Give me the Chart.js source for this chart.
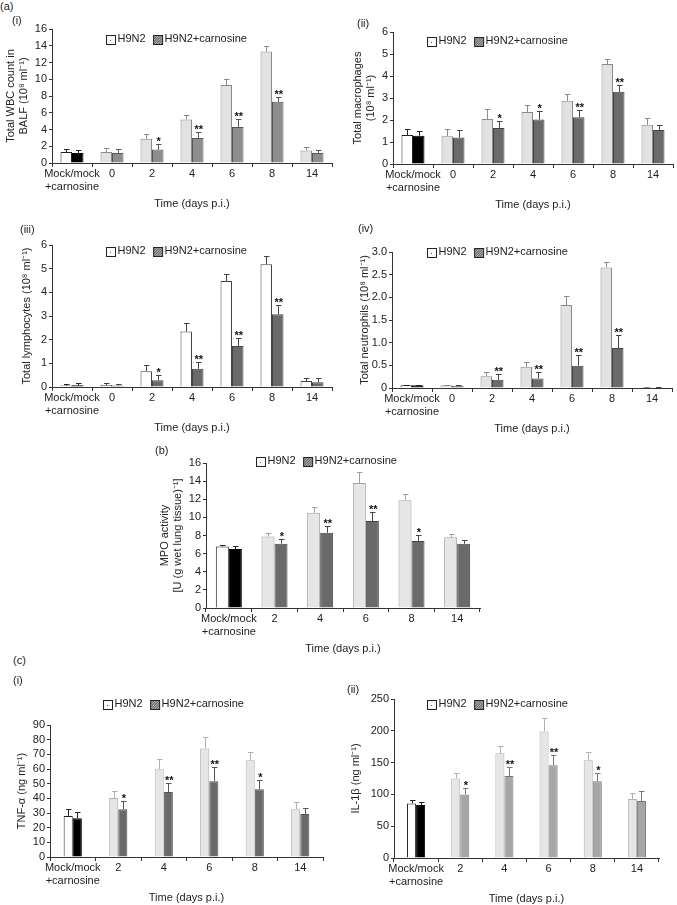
<!DOCTYPE html>
<html>
<head>
<meta charset="utf-8">
<script src="https://cdn.jsdelivr.net/npm/chart.js@4.4.0/dist/chart.umd.min.js"></script>
<style>
  body { margin: 0; width: 677px; height: 905px; overflow: hidden; background: #fff; position: relative;
         font-family: "Liberation Sans", Arial, sans-serif; color: #222; }
  canvas { position: absolute; }
  .tag { position: absolute; font-size: 11px; line-height: 13px; z-index: 2; }
</style>
</head>
<body>
<div class="tag" style="left:0;top:0">(a)</div>
<div class="tag" style="left:12px;top:14px">(i)</div>
<div class="tag" style="left:357px;top:17px">(ii)</div>
<div class="tag" style="left:20px;top:223px">(iii)</div>
<div class="tag" style="left:358px;top:222px">(iv)</div>
<div class="tag" style="left:155px;top:444px">(b)</div>
<div class="tag" style="left:13px;top:654px">(c)</div>
<div class="tag" style="left:13px;top:674px">(i)</div>
<div class="tag" style="left:347px;top:683px">(ii)</div>

<canvas id="wbc"></canvas>
<canvas id="mac"></canvas>
<canvas id="lym"></canvas>
<canvas id="neu"></canvas>
<canvas id="mpo"></canvas>
<canvas id="tnf"></canvas>
<canvas id="il1"></canvas>

<script>
const daysA = [['Mock/mock', '+carnosine'], '0', '2', '4', '6', '8', '14'];
const daysBC = [['Mock/mock', '+carnosine'], '2', '4', '6', '8', '14'];

// (a)(i) total WBC in BALF
const wbcH9N2 = [1.3, 1.3, 2.9, 5.2, 9.3, 13.3, 1.5];
const wbcH9N2Err = [0.4, 0.5, 0.6, 0.5, 0.7, 0.7, 0.45];
const wbcCarn = [1.2, 1.2, 1.6, 3.0, 4.3, 7.3, 1.2];
const wbcCarnErr = [0.4, 0.5, 0.7, 0.7, 1.0, 0.6, 0.35];
const wbcStars = ['', '', '*', '**', '**', '**', ''];

// (a)(ii) macrophages
const macH9N2 = [1.32, 1.26, 2.05, 2.36, 2.87, 4.54, 1.78];
const macH9N2Err = [0.26, 0.34, 0.45, 0.33, 0.32, 0.23, 0.3];
const macCarn = [1.28, 1.2, 1.64, 2.02, 2.13, 3.28, 1.55];
const macCarnErr = [0.22, 0.35, 0.31, 0.4, 0.33, 0.31, 0.21];
const macStars = ['', '', '*', '*', '**', '**', ''];

// (a)(iii) lymphocytes
const lymH9N2 = [0.06, 0.08, 0.67, 2.34, 4.48, 5.19, 0.25];
const lymH9N2Err = [0.08, 0.07, 0.26, 0.38, 0.28, 0.36, 0.14];
const lymCarn = [0.07, 0.06, 0.29, 0.77, 1.73, 3.07, 0.2];
const lymCarnErr = [0.08, 0.07, 0.23, 0.28, 0.32, 0.38, 0.18];
const lymStars = ['', '', '*', '**', '**', '**', ''];

// (a)(iv) neutrophils
const neuH9N2 = [0.06, 0.06, 0.26, 0.47, 1.83, 2.66, 0.02];
const neuH9N2Err = [0.01, 0.01, 0.09, 0.11, 0.21, 0.12, 0.01];
const neuCarn = [0.06, 0.05, 0.18, 0.21, 0.49, 0.88, 0.01];
const neuCarnErr = [0.01, 0.01, 0.12, 0.15, 0.23, 0.29, 0.01];
const neuStars = ['', '', '**', '**', '**', '**', ''];

// (b) MPO activity
const mpoH9N2 = [6.8, 7.9, 10.5, 13.8, 11.9, 7.8];
const mpoH9N2Err = [0.2, 0.35, 0.6, 1.2, 0.65, 0.35];
const mpoCarn = [6.5, 7.1, 8.3, 9.6, 7.4, 7.1];
const mpoCarnErr = [0.3, 0.5, 0.75, 1.0, 0.65, 0.4];
const mpoStars = ['', '*', '**', '**', '*', ''];

// (c)(i) TNF-alpha
const tnfH9N2 = [28, 40.3, 59.9, 74, 66, 32.6];
const tnfH9N2Err = [4.6, 5, 6.8, 7.5, 5.5, 5];
const tnfCarn = [26.5, 32.6, 44.4, 51.7, 46.2, 29.4];
const tnfCarnErr = [4, 5.7, 5.9, 9.8, 6.2, 4.3];
const tnfStars = ['', '*', '**', '**', '*', ''];

// (c)(ii) IL-1beta
const il1H9N2 = [85.8, 125, 164.7, 199, 153.7, 92.6];
const il1H9N2Err = [5.2, 8, 11.3, 21, 12.6, 9];
const il1Carn = [83.2, 100, 129, 145.8, 120.5, 89.5];
const il1CarnErr = [5.2, 9.5, 13.6, 16.8, 13.2, 15.2];
const il1Stars = ['', '*', '**', '**', '*', ''];

const FONT = { family: '"Liberation Sans", Arial, sans-serif', size: 11, lineHeight: 1.2 };
const INK = '#222';

// error bars, asterisks and the little legend
const extras = {
  id: 'extras',
  afterDatasetsDraw(chart, args, opts) {
    const ctx = chart.ctx, y = chart.scales.y;
    ctx.save();
    chart.data.datasets.forEach((ds, i) => {
      chart.getDatasetMeta(i).data.forEach((bar, j) => {
        const top = Math.round(y.getPixelForValue(ds.data[j] + ds.err[j])) + 0.5;
        const x = Math.round(bar.x) + 0.5;
        ctx.strokeStyle = j === 0 ? '#222' : ds.errColor;
        ctx.lineWidth = 1;
        ctx.beginPath();
        ctx.moveTo(x, bar.y);
        ctx.lineTo(x, top);
        ctx.moveTo(x - 2.5, top);
        ctx.lineTo(x + 3, top);
        ctx.stroke();
        if (ds.stars && ds.stars[j]) {
          ctx.fillStyle = '#111';
          ctx.font = 'bold 11px "Liberation Sans", Arial, sans-serif';
          ctx.textAlign = 'center';
          ctx.textBaseline = 'alphabetic';
          ctx.fillText(ds.stars[j], bar.x + 1, top + 0.5);
        }
      });
    });

    // legend
    let lx = Math.round(opts.x) + 0.5, ly = Math.round(opts.y - 4.5) + 0.5;
    ctx.font = '11px "Liberation Sans", Arial, sans-serif';
    ctx.textBaseline = 'middle';
    ctx.textAlign = 'left';
    chart.data.datasets.forEach((ds, i) => {
      ctx.fillStyle = i === 0 ? '#fafafa' : '#6a6a6a';
      ctx.fillRect(lx, ly, 9, 9);
      if (i === 0) {
        ctx.fillStyle = '#555';
        ctx.fillRect(lx + 3.5, ly + 4.5, 1, 1);
      } else {
        ctx.save();
        ctx.beginPath();
        ctx.rect(lx, ly, 9, 9);
        ctx.clip();
        ctx.strokeStyle = '#bbb';
        ctx.beginPath();
        for (let k = -9; k < 9; k += 2.5) { ctx.moveTo(lx + k, ly + 9); ctx.lineTo(lx + k + 9, ly); }
        ctx.stroke();
        ctx.restore();
      }
      ctx.strokeStyle = '#222';
      ctx.strokeRect(lx, ly, 9, 9);
      ctx.fillStyle = INK;
      ctx.fillText(ds.label, lx + 11, opts.y);
      lx += 11 + ctx.measureText(ds.label).width + 8;
    });
    ctx.restore();
  }
};

function panel(id, c) {
  const cv = document.getElementById(id);
  cv.width = c.w; cv.height = c.h;
  cv.style.left = c.x + 'px'; cv.style.top = c.y + 'px';
  cv.style.width = c.w + 'px'; cv.style.height = c.h + 'px';
  const padLeft = Math.max(0, c.titleX - 10.6 - c.x);
  return new Chart(cv, {
    type: 'bar',
    data: {
      labels: c.labels,
      datasets: [
        {
          label: 'H9N2', data: c.h9, err: c.h9Err,
          backgroundColor: c.labels.map((_, i) => i === 0 ? '#fff' : c.h9Fill),
          borderColor: c.labels.map((_, i) => i === 0 ? '#222' : c.h9Line),
          borderWidth: 1, errColor: c.h9Line
        },
        {
          label: 'H9N2+carnosine', data: c.cn, err: c.cnErr, stars: c.stars,
          backgroundColor: c.labels.map((_, i) => i === 0 ? '#000' : c.cnFill),
          borderColor: c.labels.map((_, i) => i === 0 ? '#000' : c.cnLine),
          borderWidth: 1, errColor: c.cnLine
        }
      ]
    },
    options: {
      responsive: false, animation: false, devicePixelRatio: 1,
      layout: { padding: { left: padLeft, top: c.area.t - c.y, right: c.x + c.w - c.area.r, bottom: 0 } },
      datasets: { bar: { categoryPercentage: c.cat, barPercentage: 1 } },
      plugins: {
        legend: { display: false },
        tooltip: { enabled: false },
        extras: { x: c.legend[0] - c.x, y: c.legend[1] - c.y }
      },
      scales: {
        x: {
          grid: { drawOnChartArea: false, tickLength: 4, color: '#333' },
          border: { color: '#333' },
          ticks: { padding: 0, color: INK, font: FONT, maxRotation: 0, autoSkip: false },
          title: { display: true, text: 'Time (days p.i.)', color: INK, font: FONT },
          afterFit: s => { s.height = c.y + c.h - c.area.b; }
        },
        y: {
          min: 0, max: c.max,
          ticks: { stepSize: c.step, padding: 2, color: INK, font: FONT, autoSkip: false, maxTicksLimit: 20,
                   callback: c.fmt || (v => v) },
          grid: { drawOnChartArea: false, tickLength: 3, color: '#333' },
          border: { color: '#333' },
          title: { display: true, text: c.yTitle, color: INK, font: FONT, padding: { top: 4, bottom: 0 } },
          afterFit: s => { s.width = c.area.l - c.x - padLeft; }
        }
      }
    },
    plugins: [extras]
  });
}

const light = '#e2e2e2', lightLine = '#8a8a8a', dark = '#6a6a6a', darkLine = '#444';

panel('wbc', {
  x: 0, y: 20, w: 338, h: 195, area: { l: 52, t: 29, r: 332, b: 163 }, titleX: 10,
  labels: daysA, h9: wbcH9N2, h9Err: wbcH9N2Err, cn: wbcCarn, cnErr: wbcCarnErr, stars: wbcStars,
  h9Fill: light, h9Line: lightLine, cnFill: '#8e8e8e', cnLine: '#555',
  max: 16, step: 2, cat: 0.575, legend: [106, 39],
  yTitle: ['Total WBC count in', 'BALF (10⁸ ml⁻¹)']
});

panel('mac', {
  x: 340, y: 20, w: 337, h: 196, area: { l: 393, t: 32, r: 673, b: 164 }, titleX: 358,
  labels: daysA, h9: macH9N2, h9Err: macH9N2Err, cn: macCarn, cnErr: macCarnErr, stars: macStars,
  h9Fill: light, h9Line: lightLine, cnFill: dark, cnLine: darkLine,
  max: 6, step: 1, cat: 0.575, legend: [427, 41],
  yTitle: ['Total macrophages', '(10⁸ ml⁻¹)']
});

panel('lym', {
  x: 0, y: 235, w: 338, h: 204, area: { l: 52, t: 245, r: 332, b: 387 }, titleX: 27,
  labels: daysA, h9: lymH9N2, h9Err: lymH9N2Err, cn: lymCarn, cnErr: lymCarnErr, stars: lymStars,
  h9Fill: '#fff', h9Line: '#444', cnFill: dark, cnLine: darkLine,
  max: 6, step: 1, cat: 0.575, legend: [106, 251],
  yTitle: 'Total lymphocytes (10⁸ ml⁻¹)'
});

panel('neu', {
  x: 340, y: 240, w: 337, h: 200, area: { l: 392, t: 252, r: 672, b: 388 }, titleX: 365,
  labels: daysA, h9: neuH9N2, h9Err: neuH9N2Err, cn: neuCarn, cnErr: neuCarnErr, stars: neuStars,
  h9Fill: light, h9Line: lightLine, cnFill: dark, cnLine: darkLine,
  max: 3, step: 0.5, cat: 0.575, legend: [427, 252],
  fmt: v => v === 0 ? '0' : v.toFixed(1),
  yTitle: 'Total neutrophils (10⁸ ml⁻¹)'
});

panel('mpo', {
  x: 150, y: 450, w: 340, h: 210, area: { l: 206, t: 463, r: 480, b: 608 }, titleX: 165,
  labels: daysBC, h9: mpoH9N2, h9Err: mpoH9N2Err, cn: mpoCarn, cnErr: mpoCarnErr, stars: mpoStars,
  h9Fill: '#e6e6e6', h9Line: '#a0a0a0', cnFill: dark, cnLine: darkLine,
  max: 16, step: 2, cat: 0.57, legend: [256, 461],
  yTitle: ['MPO activity', '[U (g wet lung tissue)⁻¹]']
});

panel('tnf', {
  x: 0, y: 695, w: 338, h: 214, area: { l: 50, t: 725, r: 323, b: 857 }, titleX: 22,
  labels: daysBC, h9: tnfH9N2, h9Err: tnfH9N2Err, cn: tnfCarn, cnErr: tnfCarnErr, stars: tnfStars,
  h9Fill: '#e6e6e6', h9Line: '#b0b0b0', cnFill: dark, cnLine: '#555',
  max: 90, step: 10, cat: 0.4, legend: [103, 704],
  yTitle: 'TNF-α (ng ml⁻¹)'
});

panel('il1', {
  x: 340, y: 690, w: 337, h: 220, area: { l: 394, t: 699, r: 659, b: 858 }, titleX: 356,
  labels: daysBC, h9: il1H9N2, h9Err: il1H9N2Err, cn: il1Carn, cnErr: il1CarnErr, stars: il1Stars,
  h9Fill: '#e6e6e6', h9Line: '#b0b0b0', cnFill: '#a6a6a6', cnLine: '#777',
  max: 250, step: 50, cat: 0.41, legend: [427, 704],
  yTitle: 'IL-1β (ng ml⁻¹)'
});
</script>
</body>
</html>
